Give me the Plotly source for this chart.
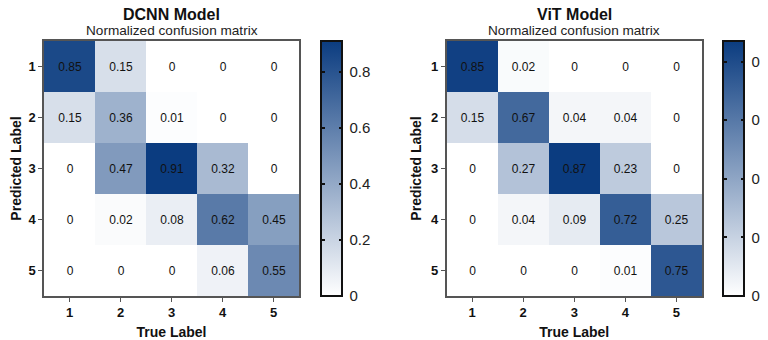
import plotly.graph_objects as go

labels = [1, 2, 3, 4, 5]
# rows = predicted label (1..5), columns = true label (1..5)
dcnn = [
    [0.85, 0.15, 0, 0, 0],
    [0.15, 0.36, 0.01, 0, 0],
    [0, 0.47, 0.91, 0.32, 0],
    [0, 0.02, 0.08, 0.62, 0.45],
    [0, 0, 0, 0.06, 0.55],
]
vit = [
    [0.85, 0.02, 0, 0, 0],
    [0.15, 0.67, 0.04, 0.04, 0],
    [0, 0.27, 0.87, 0.23, 0],
    [0, 0.04, 0.09, 0.72, 0.25],
    [0, 0, 0, 0.01, 0.75],
]
titles = ["DCNN Model", "ViT Model"]
subtitle = "Normalized confusion matrix"

W, H = 768, 340
OFF = 8  # page body margin offset
FONT = "Liberation Sans, Arial, sans-serif"
cscale = [[0, "#ffffff"], [1, "#0b3c80"]]
clear = [[0, "rgba(0,0,0,0)"], [1, "rgba(0,0,0,0)"]]

fig = go.Figure()

panels = [
    dict(x0=44 - OFF, x1=299 - OFF, cb=320.5 - OFF, data=dcnn, xa="x", ya="y"),
    dict(x0=446.5 - OFF, x1=702 - OFF, cb=723 - OFF, data=vit, xa="x2", ya="y2"),
]
ytop, ybot = 41 - OFF, 296 - OFF
CBW = 21

for i, p in enumerate(panels):
    z = p["data"]
    zmax = max(max(r) for r in z)
    cb_common = dict(xanchor="left", xpad=0, ypad=0,
                     y=1 - ybot / H, yanchor="bottom", len=(ybot - ytop) / H, lenmode="fraction",
                     tick0=0, dtick=0.2)
    fig.add_trace(go.Heatmap(
        z=z, x=labels, y=labels, xaxis=p["xa"], yaxis=p["ya"],
        colorscale=cscale, zmin=0, zmax=zmax,
        texttemplate="%{z}", textfont=dict(family=FONT, size=12, color="#111"),
        hoverinfo="skip",
        colorbar=dict(
            x=p["cb"] / W, thickness=CBW, outlinewidth=2, outlinecolor="#111",
            ticks="outside", ticklen=4, tickcolor="rgba(0,0,0,0)",
            tickfont=dict(family=FONT, size=15, color="#222"), **cb_common),
    ))
    # inward tick marks on the left and right edges of the colour bar
    for xpos, tk in [((p["cb"]) / W, "outside"), ((p["cb"] + CBW - 1) / W, "inside")]:
        fig.add_trace(go.Scatter(
            x=[1], y=[1], xaxis=p["xa"], yaxis=p["ya"], mode="markers", hoverinfo="skip",
            showlegend=False,
            marker=dict(size=1, opacity=0, color=[0], cmin=0, cmax=zmax, colorscale=clear, showscale=True,
                        colorbar=dict(x=xpos, thickness=1, outlinewidth=0, ticks=tk, ticklen=3,
                                      tickwidth=1.5, tickcolor="#111", showticklabels=False, **cb_common)),
        ))
    cx = (p["x0"] + p["x1"]) / 2 / W
    fig.add_annotation(text="<b>" + titles[i] + "</b>", x=cx, y=1 - (14 - OFF) / H, xref="paper", yref="paper",
                       xanchor="center", yanchor="middle",
                       showarrow=False, font=dict(family=FONT, size=16, color="#111"))
    fig.add_annotation(text=subtitle, x=cx, y=1 - (30.5 - OFF) / H, xref="paper", yref="paper",
                       xanchor="center", yanchor="middle",
                       showarrow=False, font=dict(family=FONT, size=13.6, color="#222"))

axis_common = dict(showline=True, linecolor="#555", linewidth=1.5, mirror=True,
                   ticks="outside", ticklen=4, tickcolor="#555", showgrid=False, zeroline=False,
                   tickfont=dict(family=FONT, size=13, color="#111", weight="bold"))
tfont = dict(family=FONT, size=14, color="#111", weight="bold")

fig.update_layout(
    width=W, height=H, margin=dict(l=0, r=0, t=0, b=0, autoexpand=False),
    paper_bgcolor="white", plot_bgcolor="white", showlegend=False,
    xaxis=dict(domain=[panels[0]["x0"] / W, panels[0]["x1"] / W], anchor="y",
               title=dict(text="True Label", font=tfont, standoff=8),
               tickvals=labels, range=[0.5, 5.5], **axis_common),
    yaxis=dict(domain=[1 - ybot / H, 1 - ytop / H], anchor="x", range=[5.5, 0.5],
               title=dict(text="Predicted Label", font=tfont, standoff=6),
               tickvals=labels, **axis_common),
    xaxis2=dict(domain=[panels[1]["x0"] / W, panels[1]["x1"] / W], anchor="y2",
                title=dict(text="True Label", font=tfont, standoff=8),
                tickvals=labels, range=[0.5, 5.5], **axis_common),
    yaxis2=dict(domain=[1 - ybot / H, 1 - ytop / H], anchor="x2", range=[5.5, 0.5],
                title=dict(text="Predicted Label", font=tfont, standoff=6),
                tickvals=labels, **axis_common),
)

fig.write_html("out.html")
